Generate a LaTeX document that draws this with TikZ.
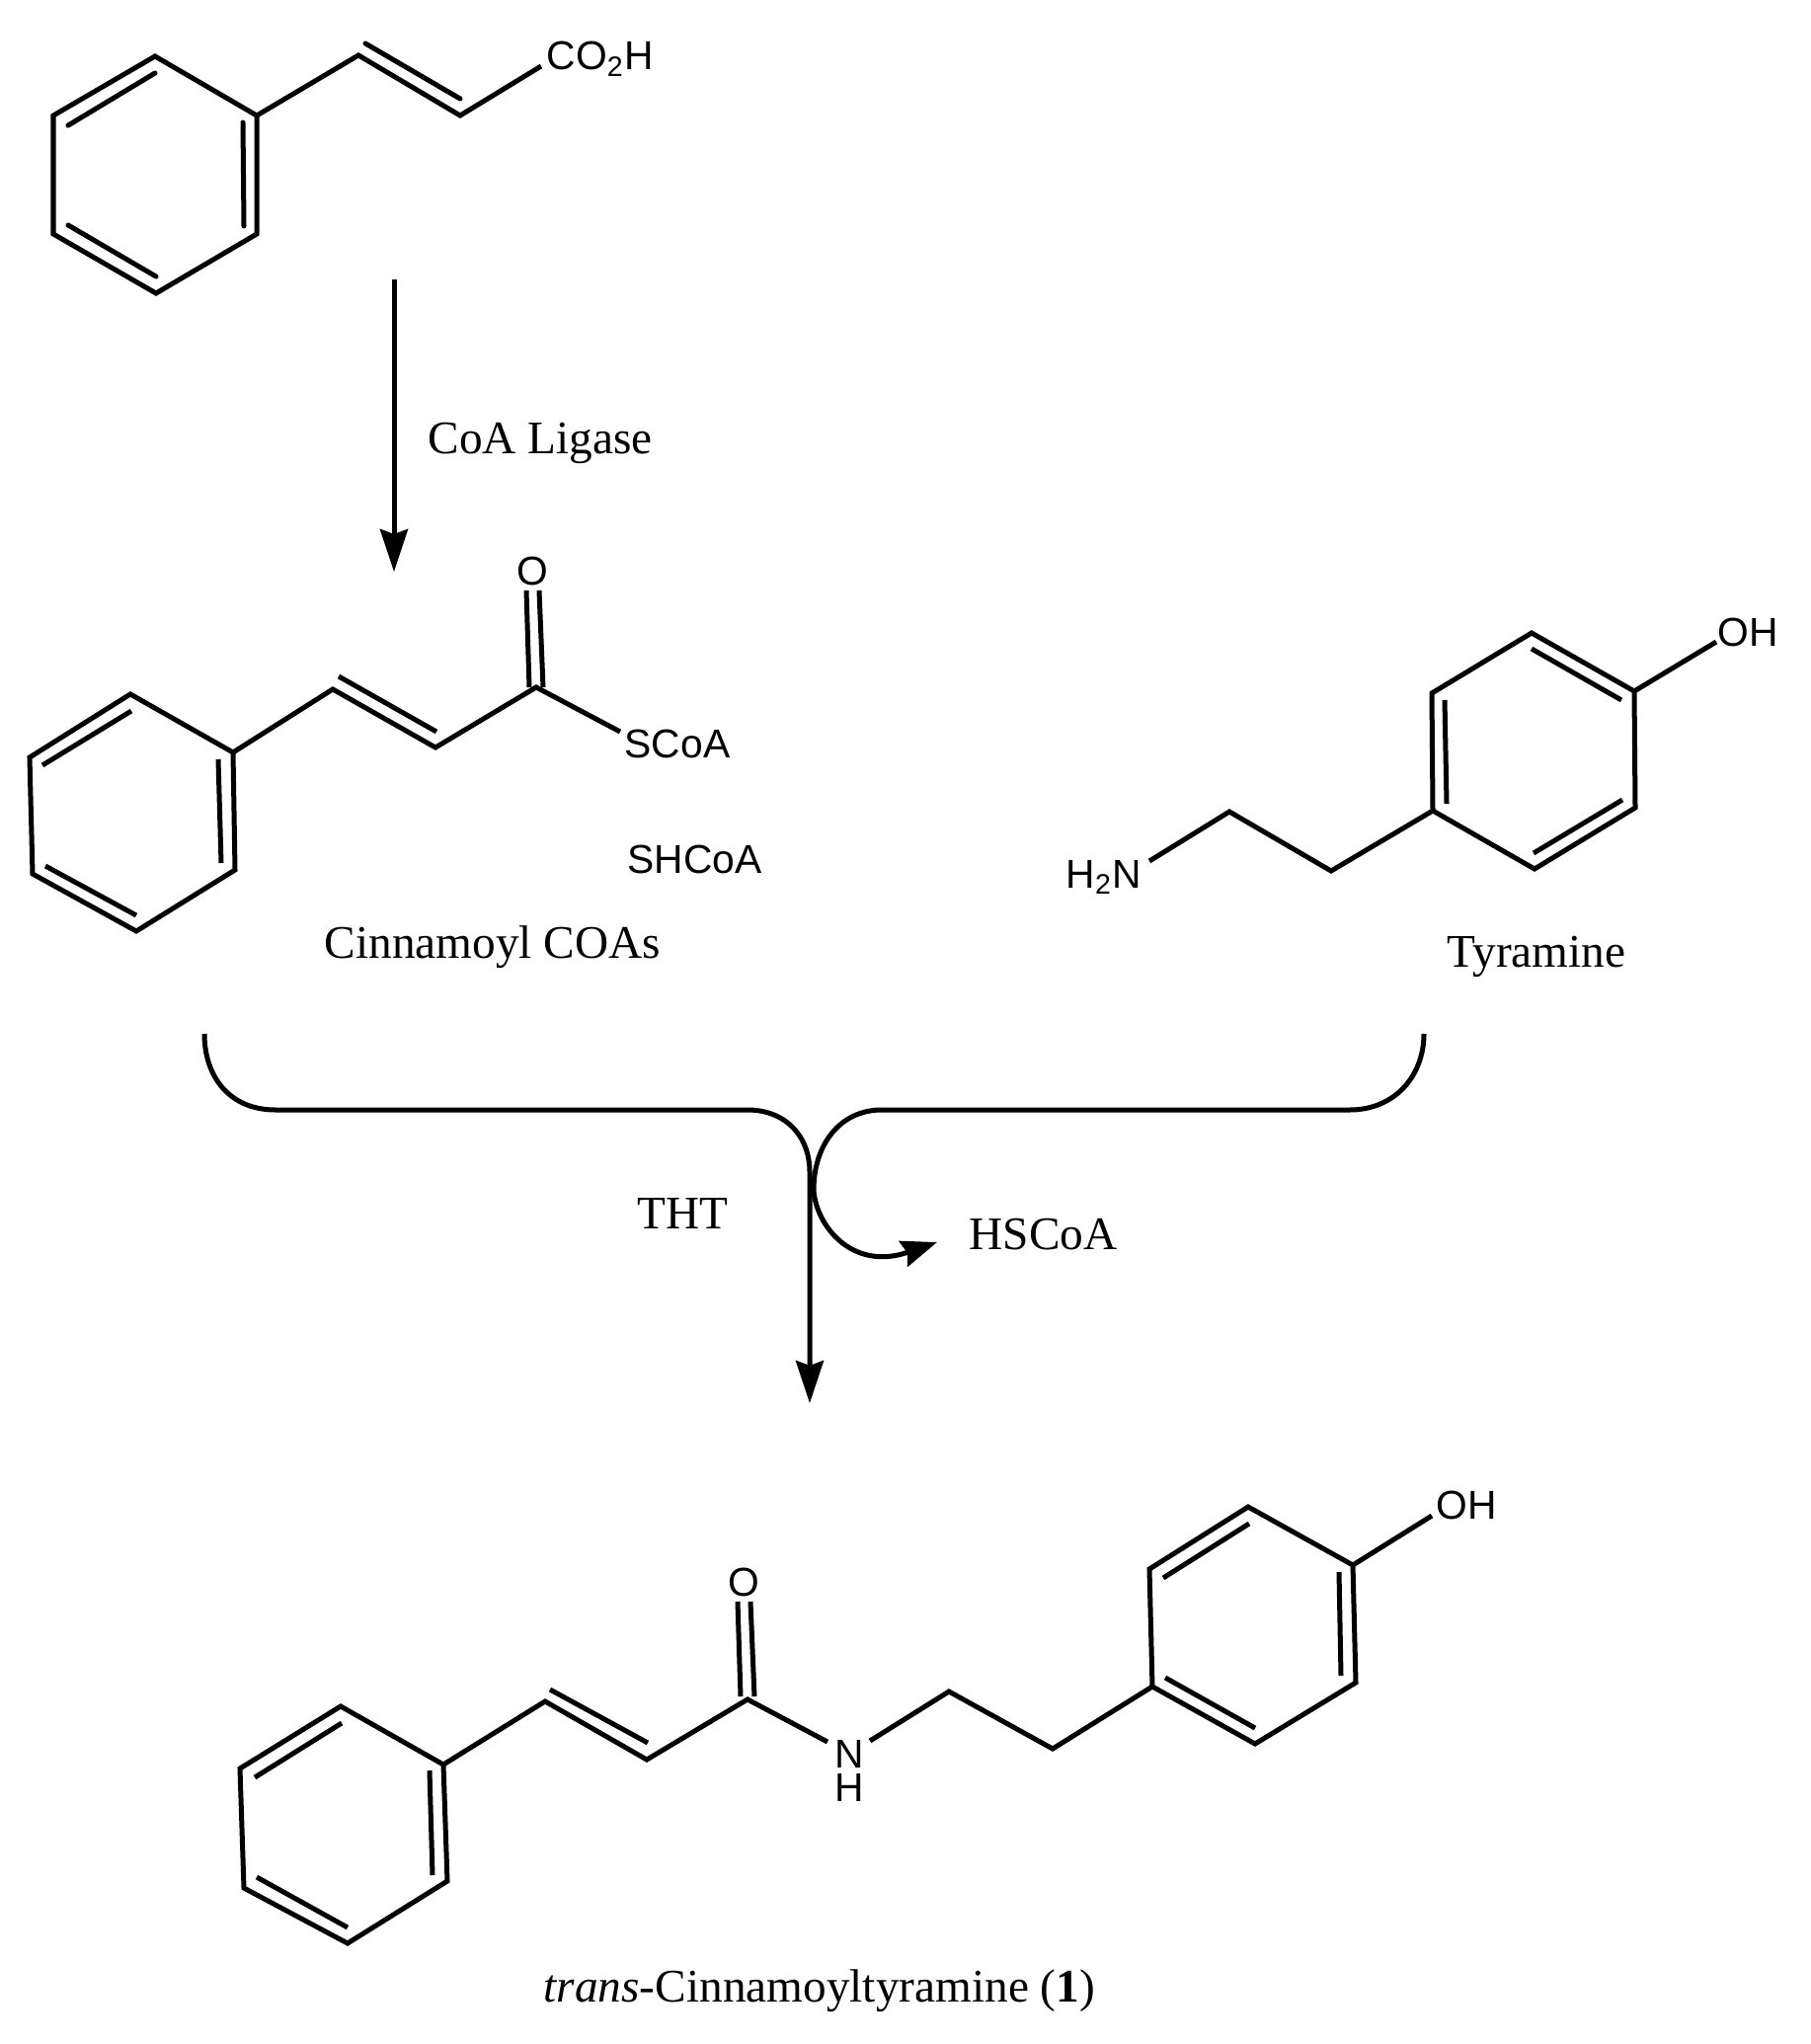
\documentclass[tikz,border=0pt]{standalone}
\usepackage{fontspec}
\setmainfont{Liberation Serif}
\newfontfamily\atomfont{Liberation Sans}
\usetikzlibrary{arrows.meta}
\tikzset{
    bond/.style={line width=0.05cm, line join=miter},
    reaction/.style={line width=0.05cm, -{Stealth[length=4.3mm, width=2.8mm, inset=0.5mm]}},
    atomlabel/.style={inner sep=0pt, anchor=base west, font=\atomfont\fontsize{11.6}{13}\selectfont},
    caption/.style={inner sep=0pt, anchor=base west, font=\fontsize{13.45}{16}\selectfont},
}
\begin{document}
\begin{tikzpicture}[x=0.01cm, y=-0.01cm]
    \useasboundingbox (0, 0) rectangle (1833, 2070);

    % cinnamic acid
    \foreach \n/\x/\y in {a1/157/57, a2/260/117, a3/260/237, a4/158/297, a5/54/237, a6/54/117,
            a7/363/56, a8/466/117, a9/548/67,
            ai/370/44, aj/466/100, ak/157/74, al/69/127, am/246/124, an/247/229, ao/69/228, ap/158/280} {
        \coordinate (\n) at (\x, \y);
    }
    \draw[bond] (a1) -- (a2) -- (a3) -- (a4) -- (a5) -- (a6) -- cycle;
    \draw[bond] (a2) -- (a7) -- (a8) -- (a9);
    \foreach \s/\t in {ai/aj, ak/al, am/an, ao/ap} {
        \draw[bond, line cap=round] (\s) -- (\t);
    }
    \node[atomlabel] (acid) at (553, 71) {CO\textsubscript{2}H};

    % first step
    \coordinate (ligasetop) at (399, 283);
    \coordinate (ligasetip) at (399, 579);
    \draw[reaction] (ligasetop) -- (ligasetip);
    \node[caption] (ligase) at (433, 459) {CoA Ligase};

    % cinnamoyl thioester
    \foreach \n/\x/\y in {b1/132/703, b2/236/762, b3/238/881, b4/138/943, b5/33/885, b6/30/767,
            b7/337/698, b8/441/757, b9/543/696, b10/628/741,
            bi/343/685, bj/442/741, bk/133/720, bl/43/775, bm/221/769, bn/224/874, bo/46/877, bp/138/927,
            bq/533/598, br/536/696, bs/546/598, bt/550/696} {
        \coordinate (\n) at (\x, \y);
    }
    \draw[bond] (b1) -- (b2) -- (b3) -- (b4) -- (b5) -- (b6) -- cycle;
    \draw[bond] (b2) -- (b7) -- (b8) -- (b9) -- (b10);
    \foreach \s/\t in {bi/bj, bk/bl, bm/bn, bo/bp, bq/br, bs/bt} {
        \draw[bond] (\s) -- (\t);
    }
    \node[atomlabel, anchor=base] (oxthio) at (539, 592) {O};
    \node[atomlabel] (scoa) at (632, 767) {SCoA};
    \node[atomlabel] (shcoa) at (635, 884) {SHCoA};
    \node[caption] (cinnamoyl) at (328, 970) {Cinnamoyl COAs};

    % tyramine
    \foreach \n/\x/\y in {c1/1551/641, c2/1655/700, c3/1656/818, c4/1554/880, c5/1451/821, c6/1450/702,
            c7/1738/650, c8/1348/882, c9/1245/822, c10/1164/872,
            ci/1551/657, cj/1642/709, ck/1463/709, cl/1465/814, cm/1643/810, cn/1553/864} {
        \coordinate (\n) at (\x, \y);
    }
    \draw[bond] (c1) -- (c2) -- (c3) -- (c4) -- (c5) -- (c6) -- cycle;
    \draw[bond] (c2) -- (c7);
    \draw[bond] (c5) -- (c8) -- (c9) -- (c10);
    \foreach \s/\t in {ci/cj, ck/cl, cm/cn} {
        \draw[bond] (\s) -- (\t);
    }
    \node[atomlabel] (ohtyr) at (1739, 654) {OH};
    \node[atomlabel] (amine) at (1079, 899) {H\textsubscript{2}N};
    \node[caption] (tyramine) at (1465, 979) {Tyramine};

    % coupling step
    \coordinate (leftend) at (207, 1047);
    \coordinate (rightend) at (1442, 1047);
    \coordinate (leftbar) at (279, 1124);
    \coordinate (leftfork) at (757, 1124);
    \coordinate (rightbar) at (1367, 1124);
    \coordinate (rightfork) at (893, 1124);
    \coordinate (stem) at (820, 1187);
    \coordinate (stemtip) at (820, 1421);
    \coordinate (exit) at (949, 1258);
    \draw[reaction] (leftend) .. controls (207, 1090) and (232, 1124) .. (leftbar) -- (leftfork)
        .. controls (795, 1124) and (820, 1150) .. (stem) -- (stemtip);
    \draw[bond] (rightend) .. controls (1442, 1090) and (1412, 1124) .. (rightbar) -- (rightfork);
    \draw[bond, -{Stealth[length=3.6mm, width=2.7mm, inset=0.4mm]}] (rightfork)
        .. controls (850, 1124) and (824, 1160) .. (824, 1205)
        .. controls (826, 1240) and (862, 1288) .. (exit);
    \node[caption] (tht) at (645, 1244) {THT};
    \node[caption] (hscoa) at (981, 1265) {HSCoA};

    % product
    \foreach \n/\x/\y in {d1/345/1728, d2/449/1787, d3/453/1905, d4/352/1968, d5/247/1912, d6/243/1791,
            d7/552/1723, d8/655/1782, d9/757/1721, d10/838/1764,
            d11/881/1763, d12/961/1713, d13/1066/1771,
            e1/1264/1526, e2/1370/1585, e3/1373/1704, e4/1271/1766, e5/1167/1708, e6/1164/1589, e7/1450/1535,
            di/557/1711, dj/656/1765, dk/346/1745, dl/258/1800, dm/435/1793, dn/438/1899, do/260/1901, dp/352/1952,
            dq/747/1622, dr/750/1718, ds/760/1622, dt/764/1718,
            ei/1265/1543, ej/1178/1598, ek/1356/1592, el/1358/1697, em/1180/1699, en/1271/1750} {
        \coordinate (\n) at (\x, \y);
    }
    \draw[bond] (d1) -- (d2) -- (d3) -- (d4) -- (d5) -- (d6) -- cycle;
    \draw[bond] (d2) -- (d7) -- (d8) -- (d9) -- (d10);
    \draw[bond] (d11) -- (d12) -- (d13) -- (e5);
    \draw[bond] (e1) -- (e2) -- (e3) -- (e4) -- (e5) -- (e6) -- cycle;
    \draw[bond] (e2) -- (e7);
    \foreach \s/\t in {di/dj, dk/dl, dm/dn, do/dp, dq/dr, ds/dt, ei/ej, ek/el, em/en} {
        \draw[bond] (\s) -- (\t);
    }
    \node[atomlabel, anchor=base] (oxamide) at (753, 1616) {O};
    \node[atomlabel, anchor=north, align=center, font=\atomfont\fontsize{11.6}{9.64}\selectfont] (amide) at (860, 1762) {N\\H};
    \node[atomlabel] (ohproduct) at (1454, 1538) {OH};
    \node[caption] (product) at (550, 2027) {\textit{trans}-Cinnamoyltyramine (\textbf{1})};
\end{tikzpicture}
\end{document}
